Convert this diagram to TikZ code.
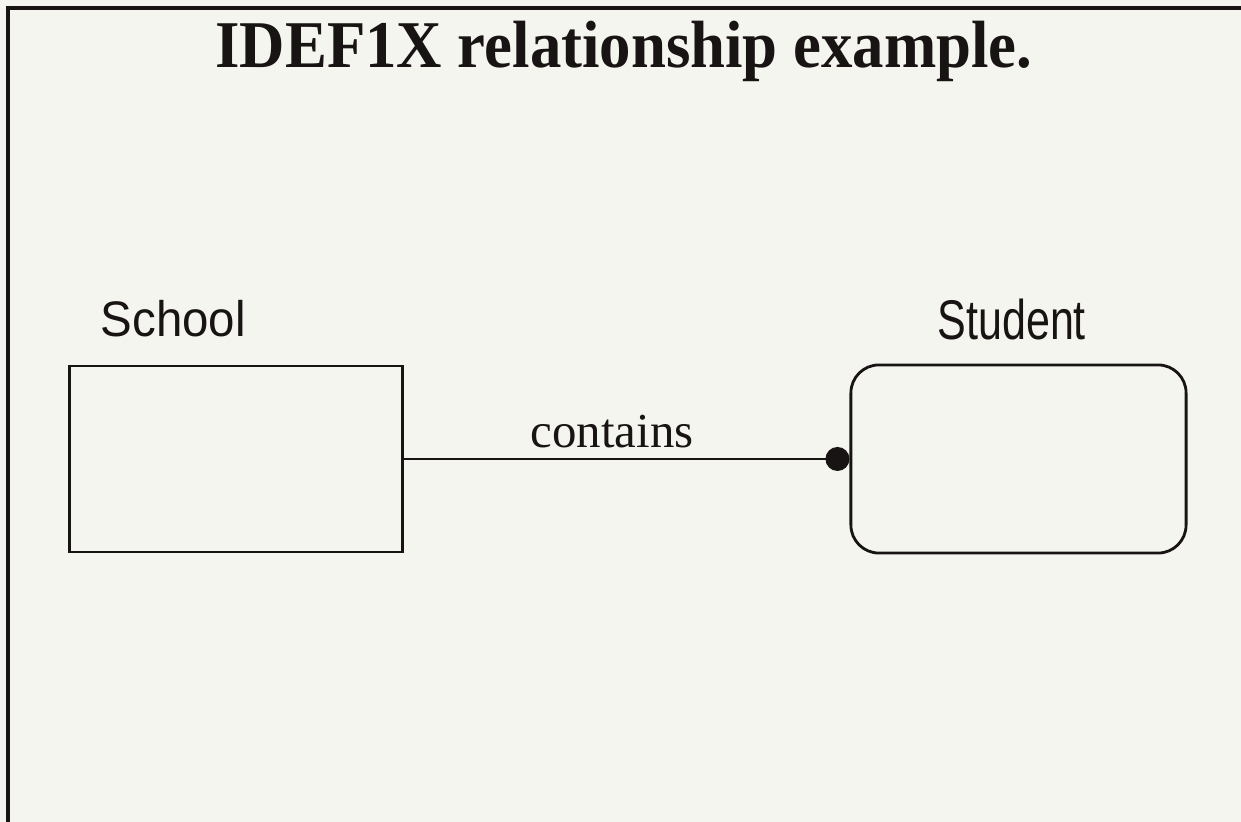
\documentclass[tikz,border=0pt]{standalone}
\usepackage{fontspec}
\setmainfont{Liberation Serif}
\setsansfont{Liberation Sans}
\definecolor{paper}{RGB}{245,245,239}
\definecolor{ink}{RGB}{25,20,20}
\begin{document}
\begin{tikzpicture}[x=0.01cm,y=-0.01cm,
  frame/.style={draw=ink,line width=1.1pt},
  entitybox/.style={draw=ink,line width=0.8pt,inner sep=0pt},
  rel/.style={draw=ink,line width=0.8pt},
  lbl/.style={font=\sffamily\fontsize{14.2pt}{17pt}\selectfont,inner sep=0pt,anchor=base west,text=ink}]
\useasboundingbox (0,0) rectangle (1241,822);
\fill[paper] (0,0) rectangle (1241,822);
\draw[frame] (8,822) -- (8,8) -- (1241,8);
\node[font=\bfseries\fontsize{19pt}{22pt}\selectfont,text=ink,anchor=base,inner sep=0pt,xscale=0.94] (title) at (624,68) {IDEF1X relationship example.};
\node[lbl,xscale=0.95] (schoollbl) at (100,337) {School};
\node[lbl,font=\sffamily\fontsize{15.9pt}{18pt}\selectfont,xscale=0.77] (studentlbl) at (937,340) {Student};
\node[entitybox,minimum width=3.32cm,minimum height=1.86cm] (school) at (236,459) {};
\node[entitybox,rounded corners=0.28cm,minimum width=3.35cm,minimum height=1.88cm] (student) at (1018.5,459) {};
\node[font=\fontsize{13.9pt}{16pt}\selectfont,text=ink,anchor=base,inner sep=0pt] (contains) at (612,448) {contains};
\coordinate (dotc) at ([xshift=-0.12cm]student.west);
\draw[rel] (school.east) -- (dotc);
\fill[ink] (dotc) circle (0.12cm);
\end{tikzpicture}
\end{document}
